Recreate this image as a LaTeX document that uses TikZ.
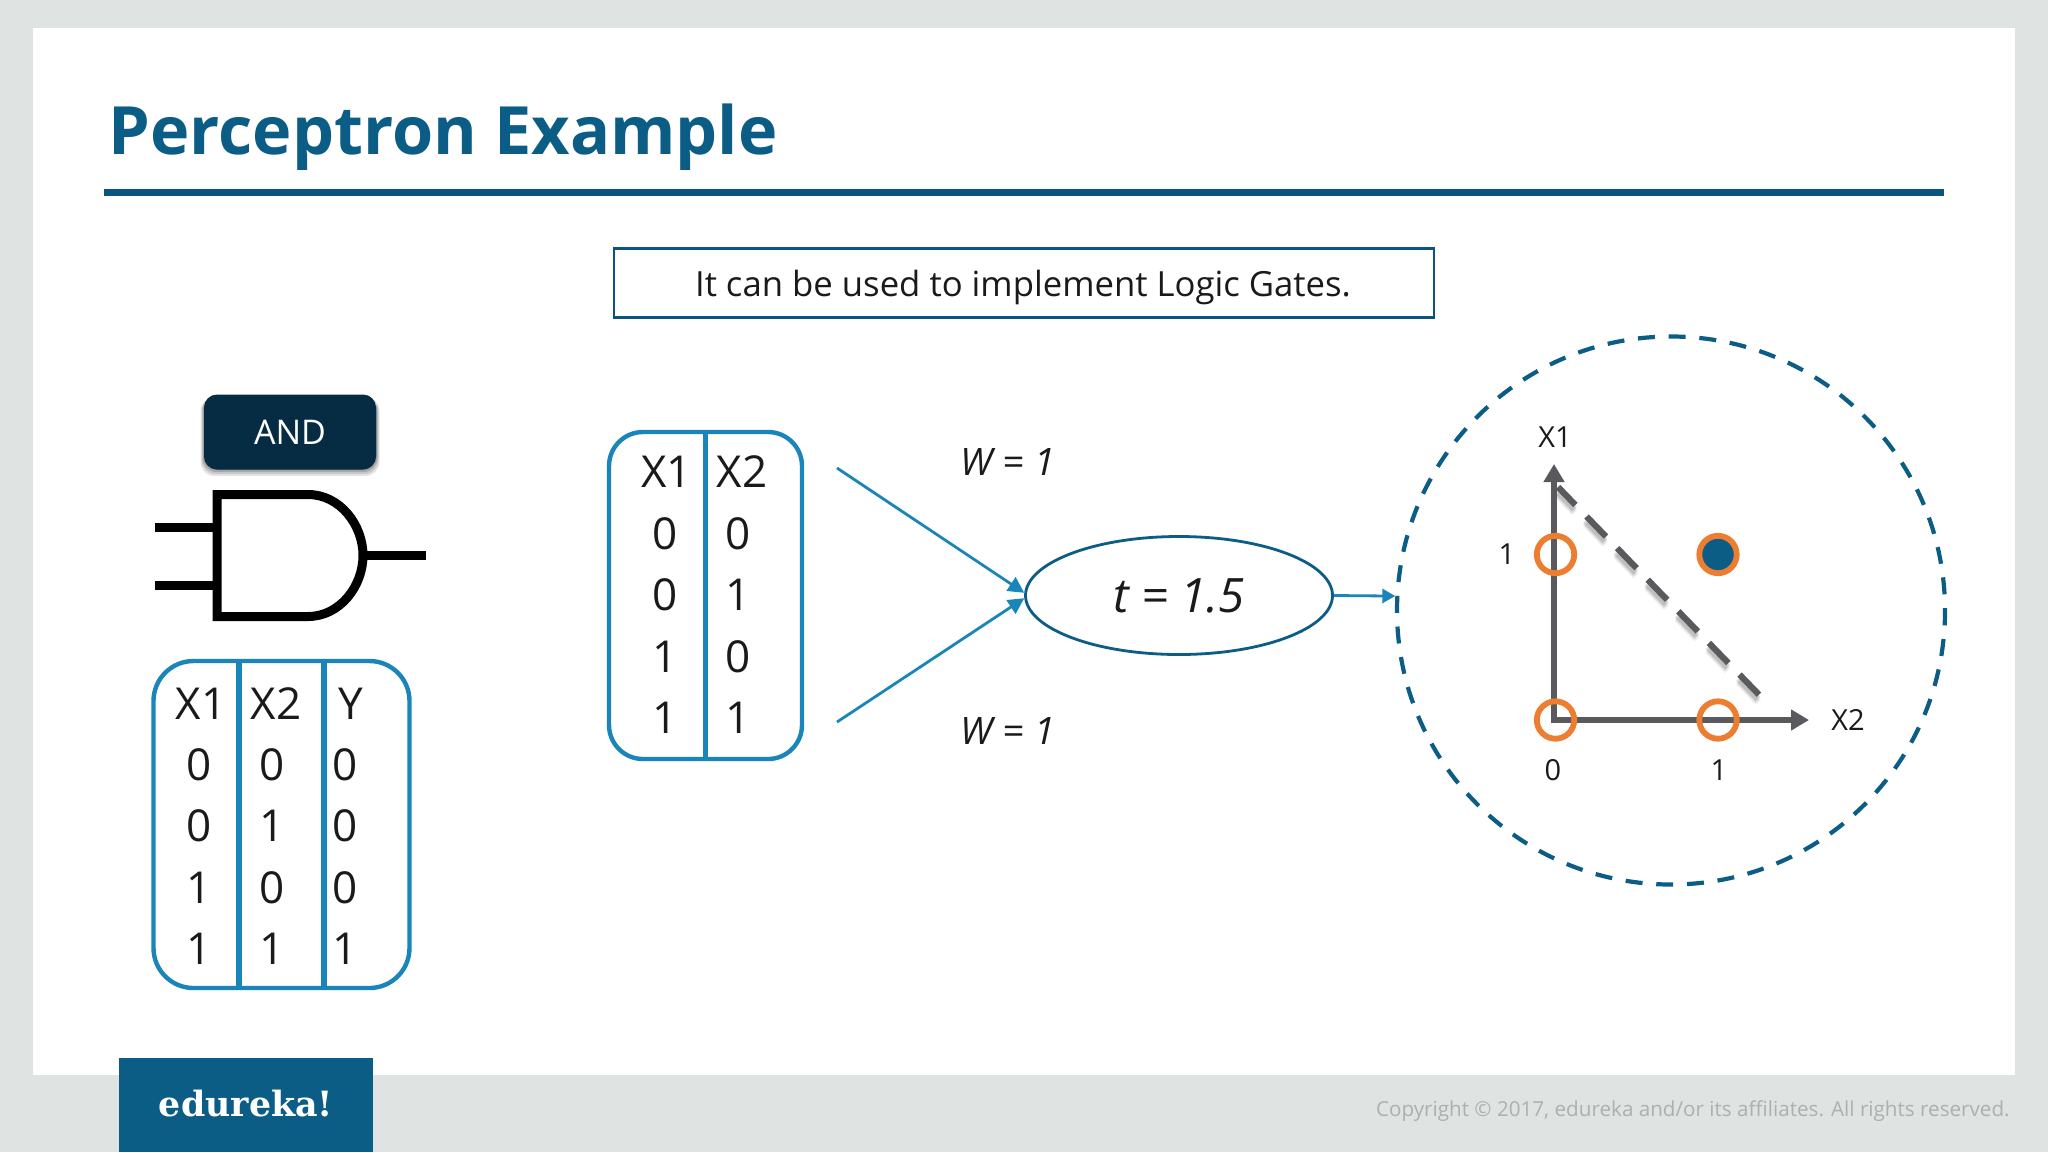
\documentclass[tikz,border=0pt]{standalone}
\usepackage{fontspec}
\setmainfont{Open Sans}
\newfontfamily\logofont{DejaVu Serif}
\usetikzlibrary{arrows.meta,shapes.geometric}
\definecolor{bgc}{HTML}{DFE3E2}
\definecolor{bluec}{HTML}{0B5D86}
\definecolor{rulec}{HTML}{0B5381}
\definecolor{tblc}{HTML}{1A85B8}
\definecolor{andc}{HTML}{062C43}
\definecolor{grayc}{HTML}{5A5A5E}
\definecolor{orangec}{HTML}{ED7D31}
\definecolor{copyc}{HTML}{ABB0B0}
\definecolor{txtc}{HTML}{1A1A1A}
\tikzset{
  tblbox/.style={draw=tblc,line width=2.2pt,rounded corners=20pt,inner sep=0pt},
  tbltxt/.style={inner sep=0pt,text=txtc,font=\fontsize{22}{22}\selectfont},
  divider/.style={draw=tblc,line width=2.8pt},
  weight/.style={inner sep=0pt,text=txtc,font=\fontsize{18.9}{19}\selectfont\itshape},
  axislabel/.style={inner sep=0pt,text=txtc,font=\fontsize{14.5}{15}\selectfont},
  axisline/.style={draw=grayc,line width=2.8pt,-{Triangle[length=9pt,width=10pt]}},
  ringdot/.style={circle,draw=orangec,line width=2.9pt,minimum size=18.7pt,inner sep=0pt},
  link/.style={draw=tblc,line width=1.4pt,-{Triangle[length=8pt,width=8pt]}},
  gateline/.style={draw=black,line width=4.5pt}
}
\begin{document}
\begin{tikzpicture}[x=0.5pt,y=-0.5pt]
\useasboundingbox (0,0) rectangle (2048,1152);
\fill[bgc] (0,0) rectangle (2048,1152);
\fill[white] (33,28) rectangle (2015,1075);
% title
\node[anchor=west,inner sep=0pt,text=bluec,font=\fontsize{33.3}{33}\selectfont\bfseries] (title) at (108,137) {Perceptron Example};
\fill[rulec] (104,189) rectangle (1944,196);
% caption
\node[draw=rulec,line width=1.1pt,minimum width=410pt,minimum height=34.5pt,inner sep=0pt] (cap) at (1024,283) {};
\node[inner sep=0pt,font=\fontsize{17.35}{18}\selectfont,text=txtc] (captxt) at (1023,287) {It can be used to implement Logic Gates.};
% AND
\foreach \k/\o in {7/0.10,5/0.12,3/0.16,1/0.2}
  \fill[black,opacity=\o,rounded corners=7pt] (204-\k/2,397) rectangle (376+\k/2,469+\k);
\node[fill=andc,rounded corners=6.5pt,minimum width=86pt,minimum height=37.5pt,inner sep=0pt,text=white,font=\fontsize{17}{17}\selectfont] (and) at (290,432) {AND};
% gate
\draw[gateline] (155,527) -- (213,527);
\draw[gateline] (155,585) -- (213,585);
\draw[gateline] (367,555.5) -- (426,555.5);
\draw[gateline,miter limit=10] (217,494.5) -- (308,494.5) .. controls (340,494.5) and (363,525) .. (363,555.5) .. controls (363,586) and (340,616.5) .. (308,616.5) -- (217,616.5) -- cycle;
% table 1
\node[tblbox,minimum width=128pt,minimum height=163.5pt] (tbla) at (281.5,824.5) {};
\draw[divider] (239,660.5) -- (239,988.5);
\draw[divider] (324,660.5) -- (324,988.5);
\node[tbltxt] (ah1) at (201,704) {X1};
\node[tbltxt] (ah2) at (276,704) {X2};
\node[tbltxt] (ah3) at (351,704) {Y};
\foreach \n/\y/\p/\q/\r in {1/765/0/0/0,2/826/0/1/0,3/888/1/0/0,4/949/1/1/1}{
  \node[tbltxt] (aa\n) at (199.5,\y) {\p};
  \node[tbltxt] (ab\n) at (272,\y) {\q};
  \node[tbltxt] (ac\n) at (345,\y) {\r};
}
% table 2
\node[tblbox,rounded corners=17pt,minimum width=96.5pt,minimum height=163.5pt] (tblb) at (705.5,595.5) {};
\draw[divider] (705.6,432) -- (705.6,759);
\node[tbltxt] (bh1) at (666.5,472) {X1};
\node[tbltxt] (bh2) at (742,472) {X2};
\node[tbltxt] (ba1) at (665,534) {0};
\node[tbltxt] (bb1) at (738,534) {0};
\node[tbltxt] (ba2) at (665,595) {0};
\node[tbltxt] (bb2) at (738,595) {1};
\node[tbltxt] (ba3) at (665,657) {1};
\node[tbltxt] (bb3) at (738,657) {0};
\node[tbltxt] (ba4) at (665,718) {1};
\node[tbltxt] (bb4) at (738,718) {1};
% perceptron
\node[ellipse,draw=bluec,line width=1.4pt,minimum width=153.5pt,minimum height=59pt,inner sep=0pt,text=txtc,font=\fontsize{23.7}{24}\selectfont\itshape] (unit) at (1179,595.5) {t = 1.5};
\coordinate (ina) at (837,468);
\coordinate (inb) at (837,722);
\draw[link] (ina) -- (unit.179);
\draw[link] (inb) -- (unit.181);
\node[weight] (wa) at (1008,462) {W = 1};
\node[weight] (wb) at (1008,731) {W = 1};
% plot circle
\node[circle,draw=bluec,line width=2.1pt,minimum size=274pt,inner sep=0pt,dash pattern=on 8.5pt off 6.87pt,dash phase=7.25pt] (plot) at (1671,610.5) {};
\draw[link,-{Triangle[length=6.5pt,width=7pt]}] (unit.east) -- (plot.177);
% plot
\coordinate (org) at (1554,720);
\coordinate (xend) at (1809,720);
\coordinate (yend) at (1554,464);
\coordinate (da) at (1558,487);
\coordinate (db) at (1768,704);
\foreach \k/\o in {8/0.06,6/0.09,4/0.12}
  \draw[black,opacity=\o,line width=3.2pt,dash pattern=on 14pt off 8pt,dash phase=1.5pt] ([shift={(-1,\k)}]da) -- ([shift={(-1,\k)}]db);
\draw[grayc,line width=3.1pt,dash pattern=on 14pt off 8pt,dash phase=1.5pt] (da) -- (db);
\draw[axisline] (org) -- (yend);
\draw[axisline] ([xshift=-1.3pt]org) -- (xend);
\node[ringdot] (p01) at (1555.5,554.5) {};
\node[ringdot] (p00) at (1555.5,720) {};
\node[ringdot] (p10) at (1718,720) {};
\node[ringdot,fill=bluec] (p11) at (1718,554.5) {};
\node[axislabel] (lx1) at (1555,437) {X1};
\node[axislabel] (lx2) at (1848,720) {X2};
\node[axislabel] (ly1) at (1507,554) {1};
\node[axislabel] (lo) at (1553,770) {0};
\node[axislabel] (lx) at (1719,770) {1};
% footer
\fill[bluec] (119,1058) rectangle (373,1152);
\node[inner sep=0pt,text=white,font=\fontsize{17.4}{18}\selectfont\logofont\bfseries] (logo) at (246,1104) {edureka!};
\node[anchor=east,inner sep=0pt,text=copyc,font=\fontsize{10.32}{11}\selectfont] (copy) at (2010,1111) {Copyright © 2017, edureka and/or its affiliates. All rights reserved.};
\end{tikzpicture}
\end{document}
